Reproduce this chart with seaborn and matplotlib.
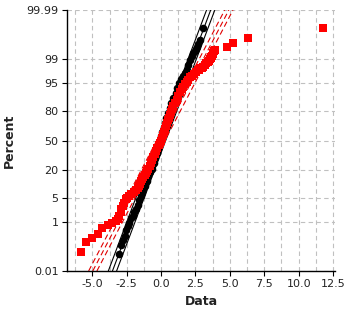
import numpy as np
import pandas as pd
import matplotlib
matplotlib.use("Agg")
import matplotlib.pyplot as plt
import seaborn as sns
from statistics import NormalDist

# ---------------- data ----------------
red_x = [-5.80, -5.45, -5.00, -4.60, -4.30, -3.87, -3.55, -3.30, -3.14, -3.05,
         -2.95, -2.88, -2.78, -2.66, -2.55, -2.45, -2.32, -2.18, -2.00, -1.81,
         -1.70, -1.64, -1.55, -1.45, -1.36, -1.28, -1.20, -1.10, -1.00, -0.92,
         -0.83, -0.75, -0.65, -0.56, -0.45, -0.36, -0.27, -0.18, -0.10, 0.00,
         0.07, 0.13, 0.20, 0.27, 0.35, 0.43, 0.50, 0.57, 0.64, 0.72,
         0.81, 0.90, 1.02, 1.14, 1.26, 1.38, 1.49, 1.60, 1.72, 1.85,
         1.97, 2.10, 2.25, 2.40, 2.52, 2.65, 2.75, 2.85, 2.96, 3.07,
         3.18, 3.30, 3.38, 3.45, 3.52, 3.60, 3.65, 3.70, 3.75, 3.80,
         3.86, 3.92, 4.80, 5.25, 6.34, 11.78]
red_pct = [0.074, 0.187, 0.28, 0.38, 0.62, 0.82, 0.94, 1.07, 1.22, 1.58,
           2.02, 2.5, 3.14, 3.84, 4.65, 5.16, 5.82, 6.3, 7.08, 7.78,
           8.7, 9.68, 11.0, 12.5, 13.8, 15.2, 16.4, 17.6, 19.4, 21.2,
           23.5, 25.8, 28.8, 31.9, 35.0, 38.2, 41.5, 44.8, 47.4, 50.0,
           53.4, 56.7, 59.8, 62.9, 66.0, 69.1, 71.7, 74.2, 76.5, 78.8,
           81.3, 83.6, 85.7, 87.7, 89.8, 91.6, 92.7, 93.7, 94.5, 95.2,
           95.8, 96.4, 96.8, 97.1, 97.4, 97.7, 97.85, 98.0, 98.1, 98.2,
           98.4, 98.6, 98.75, 98.87, 98.97, 99.06, 99.15, 99.22, 99.3, 99.38,
           99.45, 99.51, 99.62, 99.73, 99.83, 99.93]

black_x = [-3.03, -2.90, -2.76, -2.64, -2.55, -2.44, -2.34, -2.18, -2.07, -1.95,
           -1.83, -1.71, -1.58, -1.48, -1.40, -1.30, -1.20, -1.06, -0.92, -0.80,
           -0.68, -0.55, -0.42, -0.30, -0.20, -0.05, 0.02, 0.10, 0.19, 0.28,
           0.39, 0.50, 0.62, 0.75, 0.90, 1.05, 1.19, 1.33, 1.47, 1.60,
           1.72, 1.85, 1.98, 2.10, 2.22, 2.34, 2.47, 2.53, 2.59, 2.71,
           2.83, 3.05]
black_pct = [0.064, 0.14, 0.22, 0.33, 0.54, 0.75, 0.91, 1.36, 1.6, 2.1,
             2.5, 3.4, 4.5, 5.7, 6.7, 8.1, 9.7, 12.5, 15.6, 18.4,
             21.2, 25.8, 30.9, 35.6, 40.5, 50.0, 55.0, 59.9, 64.6, 69.1,
             74.0, 78.5, 82.3, 85.8, 88.7, 91.1, 93.2, 94.95, 95.9, 96.6,
             97.3, 97.83, 98.46, 98.93, 99.18, 99.36, 99.46, 99.56, 99.63, 99.69,
             99.80, 99.93]

# fitted lines (location, scale, band half-width)
red_fit = dict(mu=-0.02, sd=1.33, band=0.30)
black_fit = dict(mu=0.035, sd=0.96, band=0.30)

x_ticks = [-5.0, -2.5, 0.0, 2.5, 5.0, 7.5, 10.0, 12.5]
y_ticks = [0.01, 1, 5, 20, 50, 80, 95, 99, 99.99]
y_tick_labels = ["0.01", "1", "5", "20", "50", "80", "95", "99", "99.99"]

# ---------------- probability scale ----------------
nd = NormalDist()
_ppf = np.vectorize(nd.inv_cdf, otypes=[float])
_cdf = np.vectorize(nd.cdf, otypes=[float])


def fwd(p):
    p = np.asarray(p, dtype=float)
    ok = np.isfinite(p)
    q = np.where(ok, np.clip(p / 100.0, 1e-12, 1 - 1e-12), 0.5)
    out = _ppf(q) if q.size else q
    return np.where(ok, out, np.nan)


def inv(z):
    z = np.asarray(z, dtype=float)
    ok = np.isfinite(z)
    zz = np.where(ok, z, 0.0)
    out = _cdf(zz) * 100.0 if zz.size else zz
    return np.where(ok, out, np.nan)


sns.set_theme(style="white")
plt.rcParams['font.family'] = ['DejaVu Sans']

fig = plt.figure(figsize=(3.48, 3.12), dpi=100)
ax = fig.add_axes([0.1925, 0.1314, 0.7701, 0.8365])
ax.set_yscale('function', functions=(fwd, inv))

# fitted lines with bands
y_lo, y_hi = y_ticks[0], y_ticks[-1]
z_lo, z_hi = float(fwd(y_lo)), float(fwd(y_hi))
for fit, col, ls in [(black_fit, "black", "-"), (red_fit, "#e00000", (0, (5, 3)))]:
    for off in (-fit["band"], 0.0, fit["band"]):
        xs = [fit["mu"] + fit["sd"] * z_lo + off, fit["mu"] + fit["sd"] * z_hi + off]
        sns.lineplot(x=xs, y=[y_lo, y_hi], sort=False, estimator=None, ax=ax,
                     color=col, linewidth=0.8, linestyle=ls)

df_b = pd.DataFrame({"x": black_x, "p": black_pct})
df_r = pd.DataFrame({"x": red_x, "p": red_pct})
sns.scatterplot(data=df_b, x="x", y="p", ax=ax, marker="o", s=30, color="black",
                linewidth=0, zorder=3)
sns.scatterplot(data=df_r, x="x", y="p", ax=ax, marker="s", s=33, color="#ff0000",
                linewidth=0, zorder=4)

ax.set_xlim(-6.84, 12.64)
ax.set_ylim(y_lo, y_hi)
ax.set_xticks(x_ticks)
ax.set_xticklabels([f"{v:.1f}" for v in x_ticks])
ax.set_xticks(np.arange(-6.25, 12.6, 1.25), minor=True)
ax.set_yticks(y_ticks)
ax.set_yticklabels(y_tick_labels)
ax.yaxis.set_minor_locator(matplotlib.ticker.NullLocator())

grid_kw = dict(color="#c0c0c0", linestyle=(0, (4, 3)), linewidth=0.8)
ax.grid(True, which="both", axis="x", **grid_kw)
ax.grid(True, which="major", axis="y", **grid_kw)
ax.set_axisbelow(True)

for s in ("top", "right"):
    ax.spines[s].set_visible(False)
for s in ("left", "bottom"):
    ax.spines[s].set_color("black")
    ax.spines[s].set_linewidth(1.0)

ax.tick_params(axis="both", which="major", direction="out", length=3.5, width=0.8,
               color="black", labelsize=8, labelcolor="#222222", pad=2.5,
               left=True, bottom=True)
ax.tick_params(axis="x", which="minor", length=0)

ax.set_xlabel("Data", fontsize=9, fontweight="bold", color="#222222")
ax.set_ylabel("Percent", fontsize=9, fontweight="bold", color="#222222")
ax.xaxis.set_label_coords(0.5, -0.092)
ax.yaxis.set_label_coords(-0.19, 0.5)

fig.savefig("out.png", dpi=100)
